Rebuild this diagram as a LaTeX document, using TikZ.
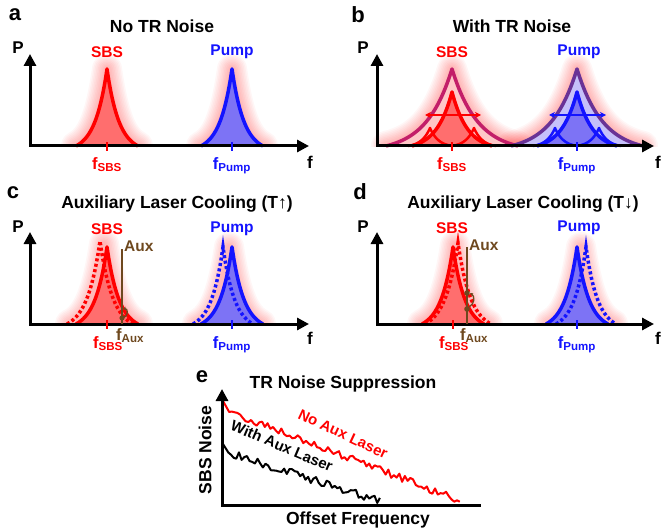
\documentclass[tikz,border=0pt]{standalone}
\usepackage{fontspec}
\setmainfont{Liberation Sans}
\usetikzlibrary{arrows.meta}
\definecolor{sbsred}{RGB}{255,0,0}
\definecolor{pumpblue}{RGB}{20,20,255}
\definecolor{auxbrown}{RGB}{110,72,30}
\definecolor{sbswide}{RGB}{195,30,105}
\definecolor{pumpwide}{RGB}{105,50,150}
\definecolor{sbsfill}{RGB}{255,110,110}
\definecolor{pumpfill}{RGB}{125,115,245}
\tikzset{axtip/.tip={Triangle[length=12pt,width=12pt]}}
% peak path: cx, base, height, half width
\newcommand\pkpath[4]{plot[domain=-#4:#4, samples=61] ({#1+\x},{#2-#3*1.0834*(exp(-abs(\x)/(0.39*#4))-0.077)})}
\newcommand\glow[4]{%
  \begin{scope}
    \clip (#1-95,#2+1) rectangle (#1+95,#2-#3-50);
    \foreach \lw in {30,27,24,21,18,15,12,9,6}{%
      \draw[line width=\lw pt, red, opacity=0.035, line join=round] \pkpath{#1}{#2}{#3}{#4} -- cycle;}
  \end{scope}}
\begin{document}
\begin{tikzpicture}[x=1pt,y=-1pt,
  title/.style={font=\fontsize{17.5}{20}\selectfont\bfseries},
  lbl/.style={font=\fontsize{15.5}{18}\selectfont\bfseries},
  axl/.style={font=\fontsize{17}{20}\selectfont\bfseries},
  letter/.style={font=\fontsize{22}{24}\selectfont\bfseries},
  flbl/.style={font=\fontsize{16.5}{18}\selectfont\bfseries, inner sep=0pt},
  axis/.style={line width=3pt, line join=miter},
  pk/.style={line width=3.5pt, line join=round},
  dpk/.style={line width=3.5pt, dash pattern=on 3pt off 2.5pt},
  tick/.style={line width=2pt},
  noise/.style={line width=2pt, line join=round}]
\useasboundingbox (0,0) rectangle (664,532);

%%%%%%%% Panel a
\node[letter] (la) at (15,15) {a};
\node[title] (ta) at (162,26) {No TR Noise};
\glow{107}{146}{77}{31}
\glow{232}{146}{77}{31}
\fill[sbsfill] \pkpath{107}{146}{77}{31} -- cycle;
\fill[pumpfill] \pkpath{232}{146}{77}{31} -- cycle;
\draw[pk, sbsred] \pkpath{107}{146}{77}{31};
\draw[pk, pumpblue] \pkpath{232}{146}{77}{31};
\coordinate (ay) at (30,54); \coordinate (ao) at (30,146); \coordinate (ax) at (309,146);
\draw[axis, axtip-axtip] (ay) -- (ao) -- (ax);
\draw[tick, sbsred] (107,142) -- (107,151);
\draw[tick, pumpblue] (232,142) -- (232,151);
\node[axl] (pa) at (18,48) {P};
\node[axl] (fa) at (310,162) {f};
\node[lbl, sbsred] (sa) at (107,52) {SBS};
\node[lbl, pumpblue] (qa) at (232,52) {Pump};
\node[flbl, sbsred, anchor=north] (fsa) at (107,157) {f\textsubscript{SBS}};
\node[flbl, pumpblue, anchor=north] (fqa) at (232,157) {f\textsubscript{Pump}};

%%%%%%%% Panel b
\node[letter] (lb) at (358,15) {b};
\node[title] (tb) at (512,26) {With TR Noise};
\glow{452}{146}{77}{66}
\glow{577}{146}{77}{66}
\fill[red!22] \pkpath{452}{146}{77}{66} -- cycle;
\fill[pumpfill!45] \pkpath{577}{146}{77}{66} -- cycle;
\fill[sbsfill] \pkpath{452}{146}{54}{40} -- cycle;
\fill[pumpfill] \pkpath{577}{146}{54}{40} -- cycle;
\draw[pk, sbswide] \pkpath{452}{146}{77}{66};
\draw[pk, pumpwide] \pkpath{577}{146}{77}{66};
\draw[pk, sbsred, line width=2.5pt] \pkpath{430}{146}{18}{22};
\draw[pk, sbsred, line width=2.5pt] \pkpath{474}{146}{18}{22};
\draw[pk, pumpblue, line width=2.5pt] \pkpath{555}{146}{18}{22};
\draw[pk, pumpblue, line width=2.5pt] \pkpath{599}{146}{18}{22};
\draw[pk, sbsred] \pkpath{452}{146}{54}{40};
\draw[pk, pumpblue] \pkpath{577}{146}{54}{40};
\coordinate (by) at (377,54); \coordinate (bo) at (377,146); \coordinate (bx) at (654,146);
\draw[axis, axtip-axtip] (by) -- (bo) -- (bx);
\coordinate (bsl) at (425,115); \coordinate (bsr) at (481,115);
\coordinate (bpl) at (549,115); \coordinate (bpr) at (606,115);
\draw[sbsred, line width=1.6pt, {Stealth[length=6pt,width=6pt]}-{Stealth[length=6pt,width=6pt]}] (bsl) -- (bsr);
\draw[pumpblue, line width=1.6pt, {Stealth[length=6pt,width=6pt]}-{Stealth[length=6pt,width=6pt]}] (bpl) -- (bpr);
\draw[tick, sbsred] (452,142) -- (452,151);
\draw[tick, pumpblue] (577,142) -- (577,151);
\node[axl] (pb) at (363,48) {P};
\node[axl] (fb) at (658,162) {f};
\node[lbl, sbsred] (sb) at (452,52) {SBS};
\node[lbl, pumpblue] (qb) at (579,52) {Pump};
\node[flbl, sbsred, anchor=north] (fsb) at (452,157) {f\textsubscript{SBS}};
\node[flbl, pumpblue, anchor=north] (fqb) at (577,157) {f\textsubscript{Pump}};

%%%%%%%% Panel c
\node[letter] (lc) at (13,193) {c};
\node[title] (tc) at (177,204) {Auxiliary Laser Cooling (T↑)};
\glow{104}{324}{80}{34}
\glow{229}{324}{77}{32}
\fill[sbsfill] \pkpath{107}{324}{77}{31} -- cycle;
\fill[pumpfill] \pkpath{232}{324}{77}{31} -- cycle;
\draw[dpk, sbsred] \pkpath{100}{324}{83}{33};
\draw[dpk, pumpblue] \pkpath{223}{324}{77}{30};
\draw[pk, sbsred] \pkpath{107}{324}{77}{31};
\draw[pk, pumpblue] \pkpath{232}{324}{77}{31};
\coordinate (cy) at (30,232); \coordinate (co) at (30,324); \coordinate (cx) at (309,324);
\draw[axis, axtip-axtip] (cy) -- (co) -- (cx);
\coordinate (auxct) at (122,249); \coordinate (auxcb) at (122,324);
\draw[auxbrown, line width=1.6pt] (auxct) -- (auxcb);
\fill[auxbrown] (122,318) circle (2.6pt);
\draw[auxbrown, line width=1.3pt, -{Stealth[length=3pt,width=3.5pt]}] (123,318) .. controls (129,316) and (128,308) .. (123,309);
\draw[tick, sbsred] (107,320) -- (107,329);
\draw[tick, pumpblue] (232,320) -- (232,329);
\node[axl] (pc) at (18,227) {P};
\node[axl] (fc) at (310,338) {f};
\node[lbl, sbsred] (sc) at (107,229) {SBS};
\node[lbl, pumpblue] (qc) at (232,229) {Pump};
\node[lbl, auxbrown, anchor=west, inner sep=0pt] (ac) at (124,246) {Aux};
\node[flbl, sbsred, anchor=north] (fsc) at (108,336) {f\textsubscript{SBS}};
\node[flbl, auxbrown, anchor=north west] (fac) at (116,328) {f\textsubscript{Aux}};
\node[flbl, pumpblue, anchor=north] (fqc) at (232,336) {f\textsubscript{Pump}};

%%%%%%%% Panel d
\node[letter] (ld) at (360,192) {d};
\node[title] (td) at (523,204) {Auxiliary Laser Cooling (T↓)};
\glow{455}{324}{79}{33}
\glow{581}{324}{77}{32}
\fill[sbsfill] \pkpath{453}{324}{77}{31} -- cycle;
\fill[pumpfill] \pkpath{577}{324}{77}{31} -- cycle;
\draw[dpk, sbsred] \pkpath{458}{324}{81}{33};
\draw[dpk, pumpblue] \pkpath{586}{324}{77}{30};
\draw[pk, sbsred] \pkpath{453}{324}{77}{31};
\draw[pk, pumpblue] \pkpath{577}{324}{77}{31};
\coordinate (dy) at (377,232); \coordinate (do) at (377,324); \coordinate (dx) at (654,324);
\draw[axis, axtip-axtip] (dy) -- (do) -- (dx);
\coordinate (auxdt) at (467,247); \coordinate (auxdb) at (467,324);
\draw[auxbrown, line width=1.6pt] (auxdt) -- (auxdb);
\fill[auxbrown] (467,293) circle (2.8pt);
\fill[auxbrown] (467,309) circle (2.8pt);
\draw[auxbrown, line width=1.3pt, -{Stealth[length=3pt,width=3.5pt]}] (469,307) .. controls (475,304) and (475,296) .. (470,293);
\draw[tick, sbsred] (453,320) -- (453,329);
\draw[tick, pumpblue] (577,320) -- (577,329);
\node[axl] (pd) at (363,227) {P};
\node[axl] (fd) at (658,338) {f};
\node[lbl, sbsred] (sd) at (452,228) {SBS};
\node[lbl, pumpblue] (qd) at (579,228) {Pump};
\node[lbl, auxbrown, anchor=west, inner sep=0pt] (ad) at (469,245) {Aux};
\node[flbl, sbsred, anchor=north] (fsd) at (454,336) {f\textsubscript{SBS}};
\node[flbl, auxbrown, anchor=north west] (fad) at (460,328) {f\textsubscript{Aux}};
\node[flbl, pumpblue, anchor=north] (fqd) at (577,336) {f\textsubscript{Pump}};

%%%%%%%% Panel e
\node[letter] (le) at (202,377) {e};
\node[title] (te) at (343,384) {TR Noise Suppression};
\coordinate (ey) at (222,389); \coordinate (eo) at (222,505); \coordinate (ex) at (481,505);
\pgfmathsetseed{11}
\draw[noise, sbsred] (223,401) -- plot[domain=0.03:1, samples=85] ({222+238*\x},{409+92*\x+4*rand});
\draw[noise, black] (223,444) -- plot[domain=0.04:1, samples=58] ({222+158*\x},{451+50*\x+4*rand});
\draw[axis, axtip-] (ey) -- (eo) -- (ex);
\node[title, rotate=90] (ye) at (205,450) {SBS Noise};
\node[title] (xe) at (358,520) {Offset Frequency};
\node[lbl, font=\fontsize{15}{18}\selectfont\bfseries, sbsred, rotate=-25] (nr) at (343,434) {No Aux Laser};
\node[lbl, font=\fontsize{15}{18}\selectfont\bfseries, black, rotate=-23] (nk) at (282,446) {With Aux Laser};
\end{tikzpicture}
\end{document}
